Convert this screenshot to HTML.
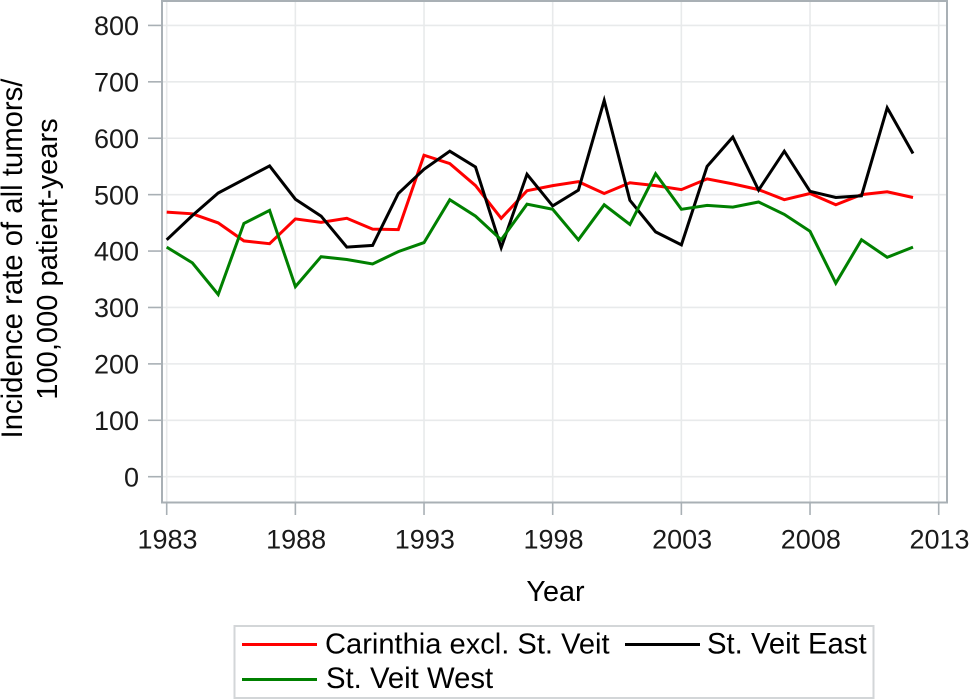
<!DOCTYPE html>
<html>
<head>
<meta charset="utf-8">
<style>
html,body{margin:0;padding:0;background:#fff;}
svg{display:block;}
text{font-family:"Liberation Sans",Arial,sans-serif;}
</style>
</head>
<body>
<svg id="chart" xmlns="http://www.w3.org/2000/svg" width="969" height="699" viewBox="0 0 969 699">
<g id="grid"></g>
<rect x="162" y="1" width="785" height="501.500" fill="none" stroke="#a9b0b5" stroke-width="2"></rect>
<g id="axes"></g>
<g id="series"></g>
<text transform="translate(22,258.500) rotate(-90)" text-anchor="middle" font-size="29.300" fill="#000">Incidence rate of all tumors/</text>
<text transform="translate(57,259) rotate(-90)" text-anchor="middle" font-size="29.100" fill="#000">100,000 patient-years</text>
<text x="555.500" y="601" text-anchor="middle" font-size="28.800" fill="#000">Year</text>
<g>
<rect x="234.500" y="626" width="639" height="72" fill="#fff" stroke="#d3d6d8" stroke-width="2"></rect>
<line x1="242" x2="317" y1="644.500" y2="644.500" stroke="#ff0000" stroke-width="3"></line>
<text x="325" y="653.500" font-size="29.100" fill="#000">Carinthia excl. St. Veit</text>
<line x1="625" x2="700" y1="644.500" y2="644.500" stroke="#000000" stroke-width="3"></line>
<text x="707" y="653.500" font-size="29.300" fill="#000">St. Veit East</text>
<line x1="242" x2="317" y1="679.500" y2="679.500" stroke="#008000" stroke-width="3"></line>
<text x="326" y="688" font-size="29.300" fill="#000">St. Veit West</text>
</g>
</svg>
<script>
const years = [1983,1984,1985,1986,1987,1988,1989,1990,1991,1992,1993,1994,1995,1996,1997,1998,1999,2000,2001,2002,2003,2004,2005,2006,2007,2008,2009,2010,2011,2012];
const carinthia = [469,466,450,418,413,457,451,458,439,438,570,555,516,458,507,516,523,502,521,516,509,528,519,509,491,502,482,500,505,495];
const stVeitEast = [420,463,503,527,551,492,462,407,410,502,545,577,549,406,536,480,508,667,490,434,411,550,602,508,577,506,495,498,654,573];
const stVeitWest = [407,379,323,449,472,337,390,385,377,399,415,491,462,420,483,474,420,482,447,537,474,481,478,487,465,435,343,420,389,407];
const yTicks = [0,100,200,300,400,500,600,700,800];
const xTicks = [1983,1988,1993,1998,2003,2008,2013];

const NS = 'http://www.w3.org/2000/svg';
function xPos(year){ return 166.7 + (year - 1983) * 25.733; }
function yPos(v){ return 476.7 - v * 0.5641; }
function make(tag, parent, attrs){
  const el = document.createElementNS(NS, tag);
  for (const k in attrs) el.setAttribute(k, attrs[k]);
  parent.appendChild(el);
  return el;
}
const grid = document.getElementById('grid');
const axes = document.getElementById('axes');
const seriesGroup = document.getElementById('series');

yTicks.forEach(function(t){
  const y = yPos(t);
  const g = make('line', grid, {x1:162, x2:947, y1:y, y2:y, stroke:'#e8eaeb', 'stroke-width':1.6});
  
  
  const tick = make('line', axes, {x1:148, x2:162, y1:y, y2:y, stroke:'#a9b0b5', 'stroke-width':1.6});
  
  
  const label = make('text', axes, {x:139, y:y + 9.6, 'text-anchor':'end', 'font-size':27, fill:'#1a1a1a'});
  
  
  label.textContent = t;
});
xTicks.forEach(function(t){
  const x = xPos(t);
  const g = make('line', grid, {x1:x, x2:x, y1:1, y2:502, stroke:'#e8eaeb', 'stroke-width':1.6});
  
  
  const tick = make('line', axes, {x1:x, x2:x, y1:502, y2:515, stroke:'#a9b0b5', 'stroke-width':1.6});
  
  
  const label = make('text', axes, {x:x + 0.8, y:548.5, 'text-anchor':'middle', 'font-size':27, fill:'#1a1a1a'});
  
  
  label.textContent = t;
});
function drawLine(values, color){
  const pts = values.map(function(v, i){ return xPos(years[i]).toFixed(1) + ',' + yPos(v).toFixed(1); }).join(' ');
  return make('polyline', seriesGroup, {points:pts, fill:'none', stroke:color, 'stroke-width':3, 'stroke-linejoin':'miter'});
}
const lineCarinthia = drawLine(carinthia, '#ff0000');


const lineEast = drawLine(stVeitEast, '#000000');


const lineWest = drawLine(stVeitWest, '#008000');


</script>
</body>
</html>
